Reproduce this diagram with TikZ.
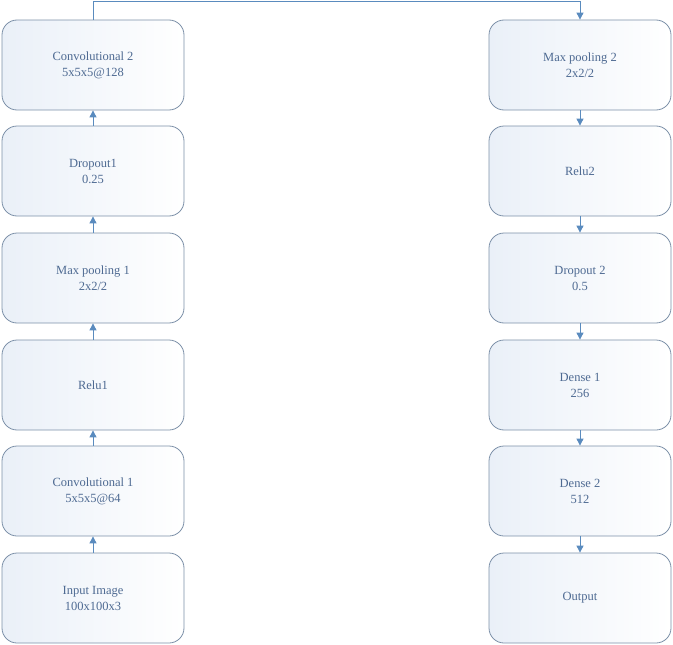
\documentclass[tikz,border=0pt]{standalone}
\usepackage{fontspec}
\setmainfont{Liberation Serif}
\usetikzlibrary{arrows.meta}
\definecolor{layerline}{HTML}{7C90A8}
\definecolor{layertext}{HTML}{4E6A92}
\definecolor{layerfill}{HTML}{EAF0F8}
\definecolor{flowline}{HTML}{5A8BBE}
\begin{document}
\begin{tikzpicture}[
    x=1pt, y=-1pt,
    layer/.style={rectangle, rounded corners=15pt, minimum width=182pt, minimum height=90pt, align=center, draw=layerline, line width=0.8pt, left color=layerfill, right color=white, text=layertext, font=\fontsize{12.5}{16}\selectfont},
    flow/.style={draw=flowline, line width=0.9pt, -{Triangle[width=7pt,length=7pt]}}
  ]
    \useasboundingbox (0,0) rectangle (673,645);

    \node[layer] (input) at (93, 598) {Input Image\\100x100x3};
    \node[layer] (conv1) at (93, 491) {Convolutional 1\\5x5x5@64};
    \node[layer] (relu1) at (93, 385) {Relu1};
    \node[layer] (pool1) at (93, 278) {Max pooling 1\\2x2/2};
    \node[layer] (drop1) at (93, 171) {Dropout1\\0.25};
    \node[layer] (conv2) at (93, 65) {Convolutional 2\\5x5x5@128};

    \node[layer] (pool2) at (580, 65) {Max pooling 2\\2x2/2};
    \node[layer] (relu2) at (580, 171) {Relu2};
    \node[layer] (drop2) at (580, 278) {Dropout 2\\0.5};
    \node[layer] (dense1) at (580, 385) {Dense 1\\256};
    \node[layer] (dense2) at (580, 491) {Dense 2\\512};
    \node[layer] (output) at (580, 598) {Output};

    \draw[flow] (input) -- (conv1);
    \draw[flow] (conv1) -- (relu1);
    \draw[flow] (relu1) -- (pool1);
    \draw[flow] (pool1) -- (drop1);
    \draw[flow] (drop1) -- (conv2);
    \draw[flow] (conv2.north) -- ++(0,-18.5) -| (pool2.north);
    \draw[flow] (pool2) -- (relu2);
    \draw[flow] (relu2) -- (drop2);
    \draw[flow] (drop2) -- (dense1);
    \draw[flow] (dense1) -- (dense2);
    \draw[flow] (dense2) -- (output);

  \end{tikzpicture}
\end{document}
